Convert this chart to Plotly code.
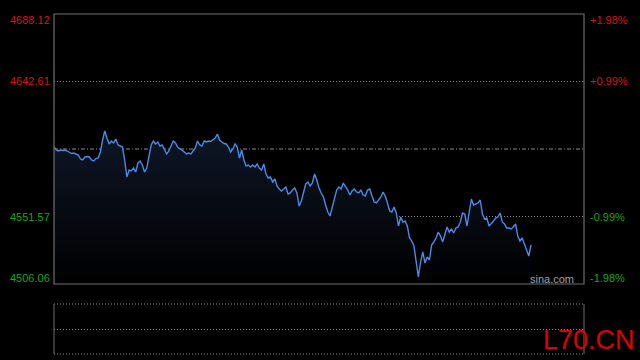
import plotly.graph_objects as go

# ---- data -------------------------------------------------------------
prev_close = 4597.09
axis_prices = [4688.12, 4642.61, 4551.57, 4506.06]
axis_pcts = ["+1.98%", "+0.99%", "-0.99%", "-1.98%"]
total_minutes = 240

prices = [
    4598.44, 4596.42, 4595.74, 4596.42, 4596.08, 4596.42, 4595.74, 4595.07, 4594.06, 4594.39,
    4593.72, 4593.04, 4590.35, 4589.67, 4591.70, 4592.03, 4591.70, 4589.67, 4589.00, 4590.68,
    4591.02, 4595.07, 4603.16, 4609.23, 4604.51, 4600.46, 4602.48, 4601.14, 4603.83, 4599.79,
    4599.11, 4598.44, 4589.67, 4578.21, 4582.93, 4582.26, 4584.28, 4581.58, 4587.65, 4589.00,
    4586.30, 4581.58, 4584.28, 4593.04, 4599.79, 4602.48, 4600.46, 4601.81, 4599.11, 4599.79,
    4596.42, 4593.72, 4595.74, 4599.11, 4602.48, 4601.14, 4598.44, 4597.09, 4596.42, 4595.07,
    4593.72, 4594.39, 4593.72, 4595.74, 4597.76, 4602.48, 4599.79, 4599.11, 4602.48, 4601.81,
    4602.48, 4602.15, 4603.16, 4604.51, 4607.20, 4603.16, 4601.81, 4600.80, 4600.46, 4598.44,
    4595.07, 4597.09, 4600.46, 4598.44, 4591.02, 4596.42, 4589.67, 4585.63, 4586.30, 4584.95,
    4586.30, 4584.95, 4586.98, 4584.28, 4582.93, 4586.98, 4580.23, 4577.54, 4578.21, 4574.84,
    4576.86, 4572.14, 4570.12, 4568.77, 4570.12, 4571.47, 4566.75, 4567.42, 4569.44, 4570.79,
    4567.42, 4558.65, 4562.03, 4568.10, 4573.49, 4574.84, 4572.14, 4574.16, 4580.23, 4576.19,
    4570.79, 4567.42, 4564.72, 4559.33, 4554.61, 4551.91, 4557.31, 4564.05, 4569.44, 4571.47,
    4570.12, 4574.16, 4572.14, 4569.44, 4566.07, 4568.77, 4570.12, 4568.10, 4567.42, 4569.44,
    4566.07, 4565.40, 4569.44, 4570.12, 4565.40, 4561.35, 4560.68, 4562.70, 4564.72, 4568.10,
    4565.40, 4560.68, 4555.28, 4554.61, 4557.98, 4553.93, 4545.17, 4551.24, 4547.87, 4548.54,
    4545.17, 4537.08, 4535.05, 4531.68, 4520.89, 4510.78, 4520.89, 4527.64, 4520.22, 4524.27,
    4522.24, 4532.36, 4534.38, 4537.08, 4541.12, 4538.43, 4534.38, 4540.45, 4544.49, 4541.12,
    4543.15, 4540.45, 4543.82, 4544.49, 4547.87, 4553.93, 4553.26, 4545.17, 4555.96, 4563.37,
    4559.33, 4560.00, 4560.68, 4562.70, 4553.26, 4549.89, 4550.56, 4545.17, 4546.52, 4548.54,
    4550.56, 4551.24, 4553.93, 4547.87, 4546.52, 4543.82, 4543.82, 4543.15, 4544.49, 4546.52,
    4538.43, 4535.05, 4537.08, 4532.36, 4528.99, 4524.94, 4532.36,
]
minutes = list(range(len(prices)))

# ---- style ------------------------------------------------------------
W, H = 640, 360
X0, X1 = 54 / W, 584 / W
Y_BOT, Y_TOP = 1 - 284 / H, 1 - 14 / H
V_TOP, V_MID, V_BOT = 1 - 304 / H, 1 - 329.5 / H, 1 - 354 / H
RED, GREEN = "#d81515", "#15a815"
FRAME = "#6e6e6e"
GRID = "#8a8a8a"
DOT = "1px,2px"
DASHDOT = "4px,2px,1px,2px"

fig = go.Figure()
fig.add_trace(go.Scatter(
    x=minutes, y=prices, mode="lines",
    line=dict(color="#4a8ae8", width=1.4),
    fill="tozeroy",
    fillgradient=dict(type="vertical",
                      colorscale=[[0, "#000000"], [1, "#0e1626"]],
                      start=axis_prices[-1], stop=max(prices)),
    hoverinfo="skip", showlegend=False,
))

fig.update_layout(
    width=W, height=H,
    paper_bgcolor="#000000", plot_bgcolor="#000000",
    margin=dict(l=0, r=0, t=0, b=0),
    xaxis=dict(domain=[X0, X1], range=[0, total_minutes], visible=False, fixedrange=True),
    yaxis=dict(domain=[Y_BOT, Y_TOP], range=[axis_prices[-1], axis_prices[0]],
               visible=False, fixedrange=True),
    font=dict(family="Liberation Sans, Arial, sans-serif"),
)

shapes = []
for v in axis_prices[1:3]:
    shapes.append(dict(type="line", xref="x domain", yref="y", x0=0, x1=1, y0=v, y1=v,
                       line=dict(color=GRID, width=1, dash=DOT), layer="below"))
shapes.append(dict(type="line", xref="x domain", yref="y", x0=0, x1=1,
                   y0=prev_close, y1=prev_close,
                   line=dict(color=GRID, width=1, dash=DASHDOT), layer="below"))
shapes.append(dict(type="rect", xref="paper", yref="paper", x0=X0, x1=X1, y0=Y_BOT, y1=Y_TOP,
                   line=dict(color=FRAME, width=1.2)))
for yy in (V_TOP, V_MID, V_BOT):
    shapes.append(dict(type="line", xref="paper", yref="paper", x0=X0, x1=X1, y0=yy, y1=yy,
                       line=dict(color=GRID, width=1, dash=DOT)))
for xx in (X0, X1):
    shapes.append(dict(type="line", xref="paper", yref="paper", x0=xx, x1=xx, y0=V_BOT, y1=V_TOP,
                       line=dict(color=FRAME, width=1)))
fig.update_layout(shapes=shapes)

ann = []
shifts = [-6, 0, 0, 6]
for v, p, s, i in zip(axis_prices, axis_pcts, shifts, range(4)):
    col = RED if i < 2 else GREEN
    ann.append(dict(text=f"{v:.2f}", xref="paper", yref="y", x=52 / W, y=v, yshift=s,
                    xanchor="right", yanchor="middle", showarrow=False,
                    font=dict(size=11, color=col)))
    ann.append(dict(text=p, xref="paper", yref="y", x=588 / W, y=v, yshift=s,
                    xanchor="left", yanchor="middle", showarrow=False,
                    font=dict(size=11, color=col)))
ann.append(dict(text="sina.com", xref="paper", yref="paper", x=576 / W, y=1 - 279 / H,
                xanchor="right", yanchor="middle", showarrow=False,
                font=dict(size=11, color="#a0a0a0")))
ann.append(dict(text="L70.CN", xref="paper", yref="paper", x=637 / W, y=1 - 340 / H,
                xanchor="right", yanchor="middle", showarrow=False,
                font=dict(size=27, color="#e00000")))
fig.update_layout(annotations=ann)

fig.write_html("out.html", config={"displayModeBar": False},
               post_script="document.body.style.margin='0';document.body.style.background='#000';")
